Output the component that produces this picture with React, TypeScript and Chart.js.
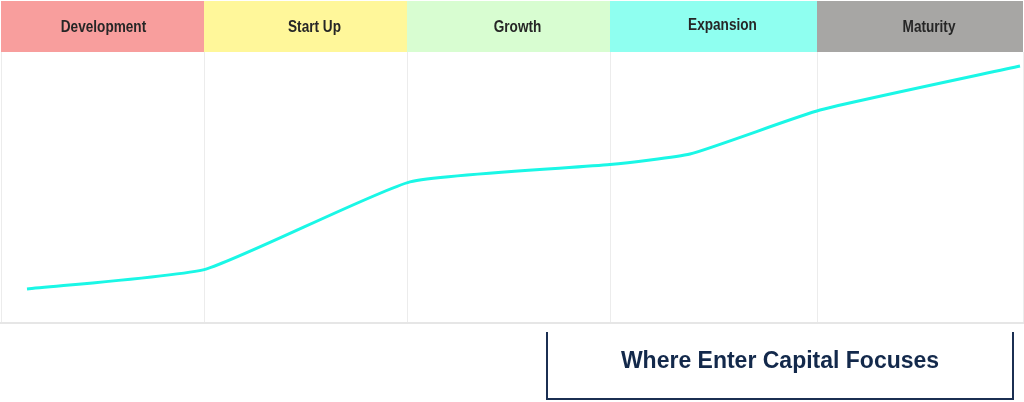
import React, { useEffect, useRef } from "react";
import { Chart, registerables } from "chart.js";

Chart.register(...registerables);

// Stage bands (x in plot units)
const stages = ["Development", "Start Up", "Growth", "Expansion", "Maturity"];
const stageEdges = [0, 203, 406, 609, 816, 1022];
const stageColors = ["#f89e9d", "#fff79a", "#d8fdd1", "#8ffff0", "#a7a6a4"];

// Line series
const lineX = [26, 205, 409, 609, 689, 819, 1019];
const lineY = [12.2, 19.6, 51.9, 58.3, 62.2, 78.5, 94.8];

// Annotation box
const focusLabel = "Where Enter Capital Focuses";
const focusRange = [546, 1012];

const overlay = {
  id: "overlay",
  beforeDatasetsDraw(chart: any) {
    const { ctx, chartArea, scales } = chart;
    const x = scales.x;
    ctx.save();
    // header bands
    for (let i = 0; i < stages.length; i++) {
      const l = x.getPixelForValue(stageEdges[i]);
      const r = x.getPixelForValue(stageEdges[i + 1]);
      ctx.fillStyle = stageColors[i];
      ctx.fillRect(l, 1, r - l, chartArea.top - 1);
      const cx = (l + r) / 2 + (i === 0 ? 1 : 9);
      ctx.save();
      ctx.translate(cx, i === 3 ? 25 : 27);
      ctx.scale(0.8, 1);
      ctx.fillStyle = "#262626";
      ctx.font = "bold 17px 'Liberation Sans', Arial, sans-serif";
      ctx.textAlign = "center";
      ctx.textBaseline = "middle";
      ctx.fillText(stages[i], 0, 0);
      ctx.restore();
    }
    // grid lines
    ctx.strokeStyle = "#ececec";
    ctx.lineWidth = 1;
    for (let i = 0; i < stageEdges.length; i++) {
      const px = Math.round(x.getPixelForValue(stageEdges[i])) + 0.5;
      ctx.beginPath();
      ctx.moveTo(px, chartArea.top);
      ctx.lineTo(px, chartArea.bottom);
      ctx.stroke();
    }
    ctx.strokeStyle = "#e6e6e6";
    ctx.lineWidth = 2;
    ctx.beginPath();
    ctx.moveTo(0, chartArea.bottom + 1);
    ctx.lineTo(chart.width, chartArea.bottom + 1);
    ctx.stroke();
    ctx.restore();
  },
  afterDraw(chart: any) {
    const { ctx, chartArea, scales } = chart;
    const x = scales.x;
    const l = x.getPixelForValue(focusRange[0]);
    const r = x.getPixelForValue(focusRange[1]);
    const top = chartArea.bottom + 10;
    const bottom = chart.height - 3;
    ctx.save();
    ctx.strokeStyle = "#1b2f52";
    ctx.lineWidth = 2;
    ctx.beginPath();
    ctx.moveTo(l, top);
    ctx.lineTo(l, bottom);
    ctx.lineTo(r, bottom);
    ctx.lineTo(r, top);
    ctx.stroke();
    ctx.fillStyle = "#13294b";
    ctx.font = "bold 23px 'Liberation Sans', Arial, sans-serif";
    ctx.textAlign = "center";
    ctx.textBaseline = "middle";
    ctx.fillText(focusLabel, (l + r) / 2, 362);
    ctx.restore();
  },
};

export default function App() {
  const ref = useRef<HTMLCanvasElement>(null);
  useEffect(() => {
    document.body.style.margin = "0";
    const chart = new Chart(ref.current!, {
      type: "line",
      data: {
        datasets: [
          {
            data: lineX.map((v, i) => ({ x: v, y: lineY[i] })),
            borderColor: "#1af7e6",
            borderWidth: 3,
            pointRadius: 0,
            tension: 0.15,
            fill: false,
          },
        ],
      },
      options: {
        animation: false,
        responsive: true,
        maintainAspectRatio: false,
        layout: { padding: { top: 52, bottom: 80, left: 1, right: 1 } },
        plugins: { legend: { display: false }, tooltip: { enabled: false } },
        scales: {
          x: { type: "linear", min: 0, max: 1022, display: false },
          y: { min: 0, max: 100, display: false },
        },
      },
      plugins: [overlay],
    });
    return () => chart.destroy();
  }, []);
  return (
    <div style={{ width: 1024, height: 402, position: "relative" }}>
      <canvas ref={ref} />
    </div>
  );
}
